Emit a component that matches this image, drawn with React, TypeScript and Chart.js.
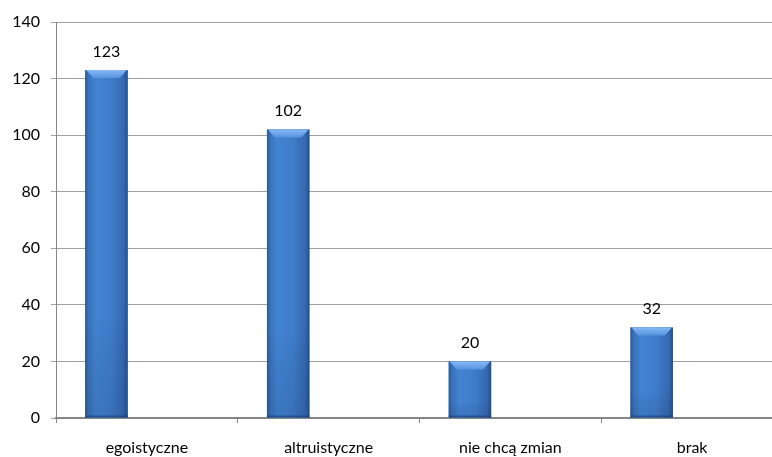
import React, { useEffect, useRef } from "react";
import { Chart, registerables } from "chart.js";

Chart.register(...registerables);

const categories = ["egoistyczne", "altruistyczne", "nie chcą zmian", "brak"];
const counts = [123, 102, 20, 32];
const emptySeries = [null, null, null, null];
const yTicks = [0, 20, 40, 60, 80, 100, 120, 140];

const FONT = "Lato, 'Open Sans', sans-serif";

// Repaints each bar with a shaded, bevelled look.
const bevelPlugin = {
  id: "bevelBars",
  afterDatasetsDraw(chart: any) {
    const ctx = chart.ctx;
    const meta = chart.getDatasetMeta(0);
    meta.data.forEach((bar: any) => {
      const { x, y, base, width } = bar.getProps(["x", "y", "base", "width"], true);
      const left = x - width / 2;
      const right = x + width / 2;
      const top = Math.min(y, base);
      const bottom = Math.max(y, base);
      const h = bottom - top;
      ctx.save();
      const g = ctx.createLinearGradient(left, 0, right, 0);
      g.addColorStop(0, "#2a5a99");
      g.addColorStop(0.08, "#3a72bb");
      g.addColorStop(0.25, "#4283d2");
      g.addColorStop(0.6, "#3f7dca");
      g.addColorStop(0.9, "#3569b0");
      g.addColorStop(1, "#24508b");
      ctx.fillStyle = g;
      ctx.fillRect(left, top, width, h);
      // vertical darkening towards the base
      const gv = ctx.createLinearGradient(0, top, 0, bottom);
      gv.addColorStop(0, "rgba(0,0,0,0)");
      gv.addColorStop(0.7, "rgba(0,0,0,0)");
      gv.addColorStop(1, "rgba(10,30,70,0.12)");
      ctx.fillStyle = gv;
      ctx.fillRect(left, top, width, h);
      // top bevel
      const bev = Math.min(8, h / 2);
      const gt = ctx.createLinearGradient(0, top, 0, top + bev);
      gt.addColorStop(0, "#86b9f5");
      gt.addColorStop(1, "#5592de");
      ctx.fillStyle = gt;
      ctx.beginPath();
      ctx.moveTo(left + 1, top);
      ctx.lineTo(right - 1, top);
      ctx.lineTo(right - bev, top + bev);
      ctx.lineTo(left + bev, top + bev);
      ctx.closePath();
      ctx.fill();
      // bottom edge
      ctx.fillStyle = "rgba(20,50,100,0.5)";
      ctx.fillRect(left, bottom - 2, width, 2);
      ctx.restore();
    });
  },
};

// Value labels above the bars.
const valueLabelPlugin = {
  id: "valueLabels",
  afterDatasetsDraw(chart: any) {
    const ctx = chart.ctx;
    const meta = chart.getDatasetMeta(0);
    ctx.save();
    ctx.font = `16px ${FONT}`;
    ctx.fillStyle = "#000";
    ctx.textAlign = "center";
    ctx.textBaseline = "alphabetic";
    meta.data.forEach((bar: any, i: number) => {
      ctx.fillText(String(counts[i]), bar.x, bar.y - 13);
    });
    ctx.restore();
  },
};

export default function App() {
  const ref = useRef<HTMLCanvasElement>(null);

  useEffect(() => {
    document.body.style.margin = "0";
    const canvas = ref.current!;
    const chart = new Chart(canvas, {
      type: "bar",
      data: {
        labels: categories,
        datasets: [
          { data: counts, backgroundColor: "#3f7dca", borderWidth: 0 },
          { data: emptySeries as any, backgroundColor: "rgba(0,0,0,0)", borderWidth: 0 },
        ],
      },
      options: {
        responsive: false,
        animation: false,
        devicePixelRatio: 1,
        categoryPercentage: 0.89,
        barPercentage: 0.525,
        layout: { padding: { left: 0, right: 7, top: 22, bottom: 0 } },
        plugins: { legend: { display: false }, tooltip: { enabled: false } },
        scales: {
          x: {
            offset: true,
            grid: {
              offset: true,
              drawOnChartArea: false,
              drawTicks: true,
              tickLength: 5,
              color: "#868686",
              lineWidth: 1,
            },
            border: { color: "#868686", width: 2 },
            ticks: { color: "#000", font: { family: FONT, size: 16 }, padding: 15, maxRotation: 0 },
            afterFit: (s: any) => {
              s.height = 39;
            },
          },
          y: {
            min: 0,
            max: 140,
            afterBuildTicks: (s: any) => {
              s.ticks = yTicks.map((v) => ({ value: v }));
            },
            grid: { color: "#a0a0a0", lineWidth: 1, tickLength: 5 },
            border: { color: "#868686", width: 1 },
            ticks: { color: "#000", font: { family: FONT, size: 16 }, padding: 11 },
            afterFit: (s: any) => {
              s.width = 56;
            },
          },
        },
      },
      plugins: [bevelPlugin, valueLabelPlugin],
    });
    return () => chart.destroy();
  }, []);

  return (
    <div style={{ width: 772, height: 457, overflow: "hidden", position: "relative", background: "#fff" }}>
      <canvas ref={ref} width={790} height={457} style={{ position: "absolute", left: 0, top: 0 }} />
    </div>
  );
}
